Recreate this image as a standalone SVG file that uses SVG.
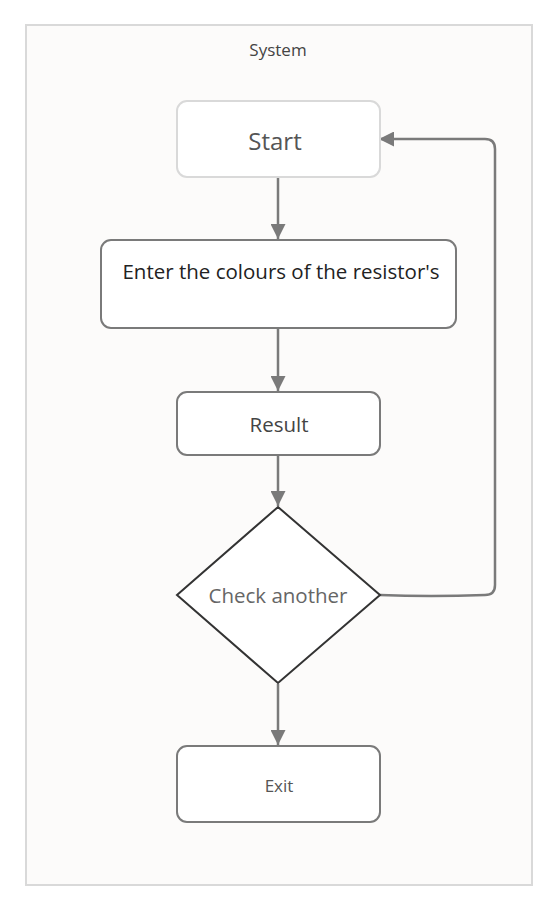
<svg xmlns="http://www.w3.org/2000/svg" width="557" height="911" viewBox="0 0 557 911">
<defs>
<style>
text{font-family:"Open Sans","DejaVu Sans",sans-serif;text-anchor:middle;dominant-baseline:central}
.node{fill:#ffffff;stroke:#7a7a7a;stroke-width:2}
.conn{fill:none;stroke:#7a7a7a;stroke-width:2.5}
</style>
<marker id="arr" viewBox="0 0 10 10" refX="10" refY="5" markerWidth="6" markerHeight="6" orient="auto" markerUnits="strokeWidth">
<path d="M0,0 L10,5 L0,10 Z" fill="#7a7a7a"/>
</marker>
</defs>
<rect width="557" height="911" fill="#ffffff"/>
<g id="system">
<rect x="26" y="25" width="506" height="860" fill="#fcfbfa" stroke="#d9d9d9" stroke-width="2"/>
<text x="278" y="49" font-size="17" fill="#444">System</text>
</g>
<g id="connectors">
<path class="conn" d="M278,178 V239" marker-end="url(#arr)"/>
<path class="conn" d="M278,329 V391" marker-end="url(#arr)"/>
<path class="conn" d="M278,456 V506" marker-end="url(#arr)"/>
<path class="conn" d="M278,684 V745" marker-end="url(#arr)"/>
<path class="conn" d="M380,595 Q430,597 485,595 Q495,595 495,585 V149 Q495,139 485,139 H379" marker-end="url(#arr)"/>
</g>
<g id="start">
<rect x="177" y="101" width="203" height="76" rx="10" fill="#ffffff" stroke="#d9d9d9" stroke-width="2"/>
<text x="275" y="140" font-size="24" fill="#555">Start</text>
</g>
<g id="enter">
<rect class="node" x="101" y="240" width="355" height="88" rx="10"/>
<text x="281" y="271" font-size="20.5" fill="#222">Enter the colours of the resistor's</text>
</g>
<g id="result">
<rect class="node" x="177" y="392" width="203" height="63" rx="10"/>
<text x="279" y="424" font-size="20.5" fill="#444">Result</text>
</g>
<g id="check">
<path d="M278,507 L380,595 L278,683 L177,595 Z" fill="#ffffff" stroke="#333" stroke-width="2"/>
<text x="278" y="595" font-size="20.5" fill="#666">Check another</text>
</g>
<g id="exit">
<rect class="node" x="177" y="746" width="203" height="76" rx="10"/>
<text x="279" y="785" font-size="17" fill="#555">Exit</text>
</g>
</svg>
